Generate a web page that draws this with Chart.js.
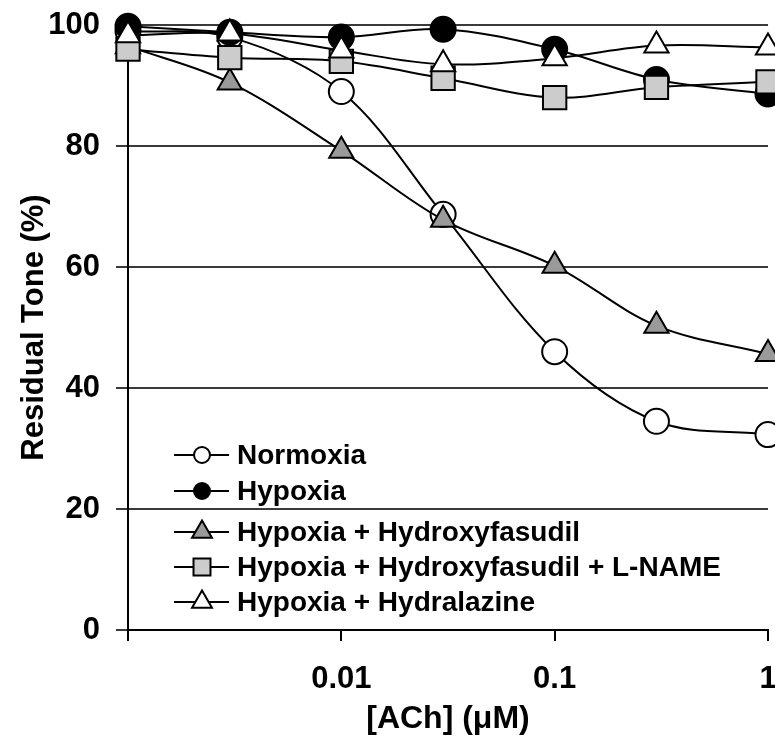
<!DOCTYPE html>
<html>
<head>
<meta charset="utf-8">
<script src="https://cdn.jsdelivr.net/npm/chart.js@4/dist/chart.umd.min.js"></script>
<style>
  html, body { margin: 0; padding: 0; background: #fff; }
  canvas { display: block; }
</style>
</head>
<body>
<canvas id="c" width="775" height="739"></canvas>
<script>
// ---- Data ----
const concentrations = [0.001, 0.003, 0.01, 0.03, 0.1, 0.3, 1];
const normoxia = [99, 98, 89, 68.7, 46, 34.5, 32.3];
const hypoxia = [99.8, 98.8, 98, 99.3, 96, 91, 88.6];
const hypoxiaHydroxyfasudil = [96.5, 90.5, 79.2, 67.8, 60.2, 50.3, 45.6];
const hypoxiaHydroxyfasudilLNAME = [96, 94.6, 94, 91.2, 88, 89.7, 90.6];
const hypoxiaHydralazine = [98.3, 98.6, 95.8, 93.5, 94.5, 96.6, 96.3];

const seriesNames = [
  'Normoxia',
  'Hypoxia',
  'Hypoxia + Hydroxyfasudil',
  'Hypoxia + Hydroxyfasudil + L-NAME',
  'Hypoxia + Hydralazine'
];
const xTickValues = [0.001, 0.01, 0.1, 1];
const xTickLabels = ['', '0.01', '0.1', '1'];
const yTickValues = [0, 20, 40, 60, 80, 100];

const FONT = '"Liberation Sans", Arial, Helvetica, sans-serif';

function toPoints(vals) { return concentrations.map((x, i) => ({ x: x, y: vals[i] })); }

const styles = [
  { pointStyle: 'circle',   fill: '#ffffff', r: 12.5, lr: 8 },
  { pointStyle: 'circle',   fill: '#000000', r: 12.5, lr: 8 },
  { pointStyle: 'triangle', fill: '#9a9a9a', r: 14,   lr: 11.5 },
  { pointStyle: 'rect',     fill: '#cccccc', r: 16.5, lr: 12 },
  { pointStyle: 'triangle', fill: '#ffffff', r: 14,   lr: 11.5 }
];
const seriesValues = [normoxia, hypoxia, hypoxiaHydroxyfasudil, hypoxiaHydroxyfasudilLNAME, hypoxiaHydralazine];

const datasets = seriesValues.map((vals, i) => ({
  label: seriesNames[i],
  data: toPoints(vals),
  borderColor: '#000',
  borderWidth: 2,
  tension: 0.35,
  pointStyle: styles[i].pointStyle,
  pointRadius: styles[i].r,
  pointHoverRadius: styles[i].r,
  pointBackgroundColor: styles[i].fill,
  pointBorderColor: '#000',
  pointBorderWidth: 2,
  clip: false,
  order: seriesValues.length - i
}));

function drawMarker(ctx, style, x, y, r, fill) {
  ctx.beginPath();
  if (style === 'circle') {
    ctx.arc(x, y, r, 0, Math.PI * 2);
  } else if (style === 'rect') {
    const s = r * Math.SQRT1_2;
    ctx.rect(x - s, y - s, 2 * s, 2 * s);
  } else {
    ctx.moveTo(x, y - r);
    ctx.lineTo(x + r * Math.sin(2 * Math.PI / 3), y - r * Math.cos(2 * Math.PI / 3));
    ctx.lineTo(x + r * Math.sin(4 * Math.PI / 3), y - r * Math.cos(4 * Math.PI / 3));
    ctx.closePath();
  }
  ctx.fillStyle = fill;
  ctx.fill();
  ctx.lineWidth = 2;
  ctx.strokeStyle = '#000';
  ctx.stroke();
}

const legendPlugin = {
  id: 'inlineLegend',
  afterDatasetsDraw(chart) {
    const ctx = chart.ctx;
    const rows = [455, 491, 532, 567, 602];
    const x0 = 174, x1 = 229, xm = 202, xt = 237;
    ctx.save();
    seriesNames.forEach((name, i) => {
      const y = rows[i];
      ctx.beginPath();
      ctx.moveTo(x0, y);
      ctx.lineTo(x1, y);
      ctx.lineWidth = 2;
      ctx.strokeStyle = '#000';
      ctx.stroke();
      drawMarker(ctx, styles[i].pointStyle, xm, y, styles[i].lr, styles[i].fill);
      ctx.fillStyle = '#000';
      ctx.font = 'bold 28px ' + FONT;
      ctx.textAlign = 'left';
      ctx.textBaseline = 'middle';
      ctx.fillText(name, xt, y + 1);
    });
    ctx.restore();
  }
};

new Chart(document.getElementById('c'), {
  type: 'line',
  data: { datasets: datasets },
  options: {
    responsive: false,
    animation: false,
    events: [],
    layout: { autoPadding: false, padding: { left: 0, top: 25, right: 7, bottom: 0 } },
    plugins: { legend: { display: false }, tooltip: { enabled: false } },
    scales: {
      x: {
        type: 'logarithmic',
        min: 0.001,
        max: 1,
        afterBuildTicks(scale) { scale.ticks = xTickValues.map(v => ({ value: v })); },
        afterFit(scale) { scale.height = 109; scale.paddingLeft = 0; scale.paddingRight = 0; },
        ticks: {
          autoSkip: false,
          maxRotation: 0,
          padding: 20,
          color: '#000',
          font: { family: FONT, size: 31, weight: 'bold' },
          callback: (v, i) => xTickLabels[i]
        },
        grid: { drawOnChartArea: false, drawTicks: true, tickLength: 11, color: '#000', lineWidth: 2 },
        border: { display: true, color: '#000', width: 2 },
        title: {
          display: true,
          text: '[ACh] (\u03bcM)',
          color: '#000',
          font: { family: FONT, size: 32, weight: 'bold' },
          padding: { top: 0, bottom: 1 }
        }
      },
      y: {
        min: 0,
        max: 100,
        afterBuildTicks(scale) { scale.ticks = yTickValues.map(v => ({ value: v })); },
        afterFit(scale) { scale.width = 128; scale.paddingTop = 0; scale.paddingBottom = 0; },
        ticks: {
          padding: 16,
          color: '#000',
          font: { family: FONT, size: 31, weight: 'bold' }
        },
        grid: { drawTicks: true, tickLength: 12, color: '#3a3a3a', lineWidth: 2 },
        border: { display: true, color: '#000', width: 2 },
        title: {
          display: true,
          text: 'Residual Tone (%)',
          color: '#000',
          font: { family: FONT, size: 31, weight: 'bold' },
          padding: { top: 16, bottom: 0 }
        }
      }
    }
  },
  plugins: [legendPlugin]
});
</script>
</body>
</html>
